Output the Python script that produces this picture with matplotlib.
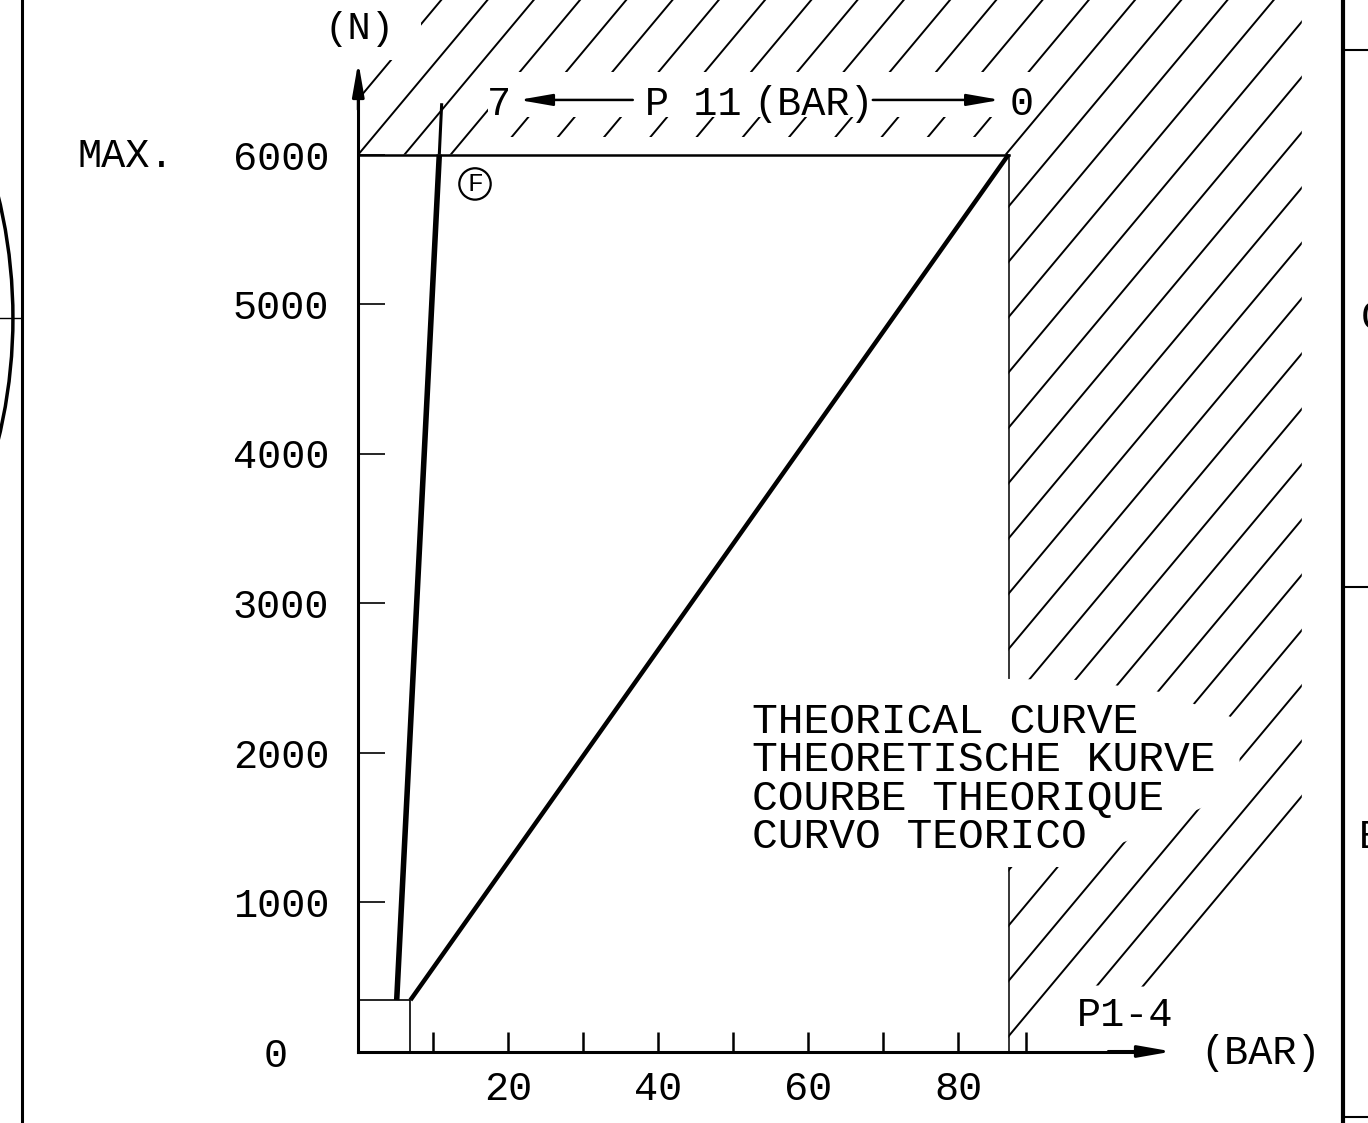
import matplotlib
matplotlib.use("Agg")
import matplotlib.pyplot as plt
from matplotlib.patches import Polygon, Rectangle, Ellipse
from matplotlib.collections import LineCollection

plt.rcParams["font.family"] = ["Liberation Mono", "DejaVu Sans Mono"]

# force curve (N) over pressure (bar)
f_bar = [5.12, 10.8, 11.12]
f_force = [344, 6000, 6343]
theo_bar = [6.95, 86.7]
theo_force = [344, 6000]
box_bar = [0, 6.95, 6.95]
box_force = [344, 344, 0]
max_force = 6000
max_bar = 86.7

x_ticks = [10, 20, 30, 40, 50, 60, 70, 80, 89]
x_labels = ["", "20", "", "40", "", "60", "", "80", ""]
y_ticks = [1000, 2000, 3000, 4000, 5000, 6000]
y_labels = ["1000", "2000", "3000", "4000", "5000", "6000"]
curve_text = ["THEORICAL CURVE", "THEORETISCHE KURVE", "COURBE THEORIQUE", "CURVO TEORICO"]

# drawing scale: pixels per bar / per newton, origin in pixels
SX, SY = 7.5, 0.1495
OX, OY = 358.3, 1051.5
W, H = 1368, 1123

fig = plt.figure(figsize=(W / 100, H / 100), dpi=100)
ax = fig.add_axes([0, 0, 1, 1])
ax.set_xlim(-OX / SX, (W - OX) / SX)
ax.set_ylim(-(H - OY) / SY, OY / SY)

for s in ["top", "right"]:
    ax.spines[s].set_visible(False)
ax.spines["left"].set_position(("data", 0))
ax.spines["bottom"].set_position(("data", 0))
ax.spines["left"].set_bounds(0, 6450)
ax.spines["bottom"].set_bounds(0, 104.5)
ax.spines["left"].set_linewidth(2.2)
ax.spines["bottom"].set_linewidth(2.2)

ax.set_xticks(x_ticks, x_labels)
ax.set_yticks(y_ticks, y_labels)
ax.tick_params(axis="x", direction="in", length=14.5, width=1.8, pad=13, labelsize=29)
ax.tick_params(axis="y", direction="in", length=19.5, width=1.2, pad=21, labelsize=29)

arrow = dict(arrowstyle="-|>,head_length=2.0,head_width=0.35", color="black",
             lw=2.2, shrinkA=0, shrinkB=0)
ax.annotate("", xy=(0, 6619), xytext=(0, 6300), arrowprops=arrow)
ax.annotate("", xy=(108.5, 0), xytext=(100, 0), arrowprops=arrow)

# hatching of the forbidden zone
clip = Polygon([(0, 7200), (0, max_force), (max_bar, max_force), (max_bar, 63),
                (94.9, 445), (125.8, 411), (125.8, 7200)], closed=True,
               transform=ax.transData)
segs = [[(0, max_force + 370 * k), (130, max_force + 60 * 130 + 370 * k)]
        for k in range(-32, 5)]
lc = LineCollection(segs, colors="black", linewidths=1.4, zorder=1)
lc.set_clip_path(clip)
ax.add_collection(lc)

# white gaps around the labels
ax.add_patch(Rectangle((-5.3, 6634), 13.7, 600, fc="white", ec="none", zorder=1.5))
ax.add_patch(Rectangle((17.3, 6251), 73.1, 301, fc="white", ec="none", zorder=1.5))
ax.add_patch(Rectangle((17.3, max_force), 68.6, 117, fc="white", ec="none", zorder=1.5))
ax.add_patch(Polygon([(51.6, 2518), (96.2, 2485), (106.9, 2405), (117.5, 2217),
                      (117.5, 1749), (105.2, 1462), (93.6, 1234), (51.6, 1234)],
                     closed=True, fc="white", ec="none", zorder=1.8))

# limits
ax.plot([0, max_bar], [max_force, max_force], color="black", lw=1.8, zorder=3)
ax.plot([max_bar, max_bar], [max_force, 0], color="black", lw=1.1, zorder=1.2)
ax.plot(box_bar, box_force, color="black", lw=1.2, zorder=3)

# curves
ax.plot(f_bar[:2], f_force[:2], color="black", lw=4.0, zorder=4, solid_capstyle="butt")
ax.plot(f_bar[1:], f_force[1:], color="black", lw=2.2, zorder=4, solid_capstyle="butt")
ax.plot(theo_bar, theo_force, color="black", lw=3.2, zorder=4, solid_capstyle="butt")

# texts
ax.text(0.2, 6770, "(N)", ha="center", va="baseline", fontsize=28, zorder=5)
ax.text(-37.4, 5916, "MAX.", ha="left", va="baseline", fontsize=29, zorder=5)
ax.text(-11.0, -104, "0", ha="center", va="baseline", fontsize=29, zorder=5)
ax.text(112.2, -84, "(BAR)", ha="left", va="baseline", fontsize=29, zorder=5)
ax.text(95.8, 170, "P1-4", ha="left", va="baseline", fontsize=29, zorder=5)

ax.text(18.8, 6264, "7", ha="center", va="baseline", fontsize=29, zorder=5)
ax.text(88.4, 6264, "0", ha="center", va="baseline", fontsize=29, zorder=5)
ax.text(38.2, 6264, "P 11", ha="left", va="baseline", fontsize=29, zorder=5)
ax.text(52.7, 6264, "(BAR)", ha="left", va="baseline", fontsize=29, zorder=5)
small_arrow = dict(arrowstyle="-|>,head_length=2.0,head_width=0.35", color="black",
                   lw=1.8, shrinkA=0, shrinkB=0)
ax.annotate("", xy=(21.4, 6365), xytext=(36.6, 6365), arrowprops=small_arrow)
ax.annotate("", xy=(85.6, 6365), xytext=(68.6, 6365), arrowprops=small_arrow)

ax.text(15.56, 5803, "F", ha="center", va="center", fontsize=19, zorder=5,
        bbox=dict(boxstyle="circle,pad=0.14", fc="white", ec="black", lw=1.6))

for i, line in enumerate(curve_text):
    ax.text(52.5, 2130 - 257 * i, line, ha="left", va="baseline", fontsize=31, zorder=5)

# sheet frame bits
ax.axvline(-44.84, color="black", lw=2.2)
ax.plot([-48, -44.84], [4906, 4906], color="black", lw=1.0)
ax.add_patch(Ellipse((-114.7, 4906), 137.3, 6890, fill=False, ec="black", lw=2.5))
ax.axvline(131.3, color="black", lw=3.0)
for yy in [6699, 3107, -438.5]:
    ax.plot([131.3, 136], [yy, yy], color="black", lw=1.5)
ax.text(133.6, 4906, "C", ha="left", va="center", fontsize=29)
ax.text(133.4, 1361, "E", ha="left", va="baseline", fontsize=29)

fig.savefig("out.png", dpi=100)
